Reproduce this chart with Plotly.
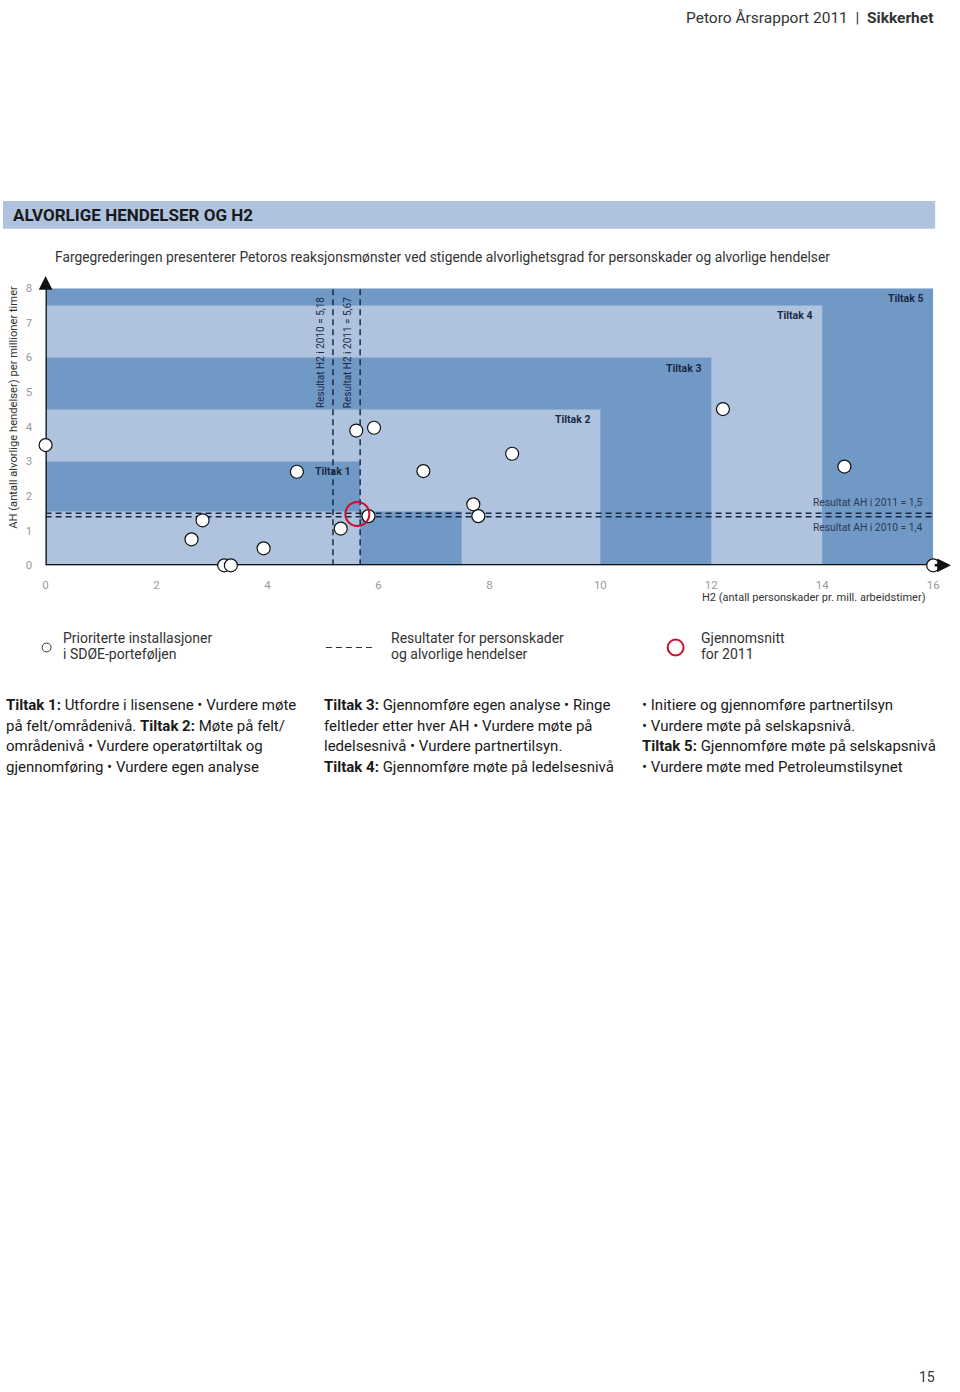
import plotly.graph_objects as go

W, H = 960, 1392
FONT = "Roboto"

# ---------------- data ----------------
point_x = [0.0, 2.83, 2.63, 3.22, 3.34, 3.93, 4.53, 5.60, 5.92, 5.32, 5.82, 6.81, 7.71, 7.80, 8.41, 12.21, 14.40, 16.0]
point_y = [3.47, 1.30, 0.75, 0.0, 0.0, 0.49, 2.70, 3.89, 3.97, 1.06, 1.42, 2.72, 1.76, 1.42, 3.22, 4.51, 2.85, 0.0]
avg_x = [5.62]
avg_y = [1.48]

tiltak_labels = ["Tiltak 1", "Tiltak 2", "Tiltak 3", "Tiltak 4", "Tiltak 5"]
tiltak_x_max = [5.67, 10, 12, 14, 16]
tiltak_y_max = [3, 4.5, 6, 7.5, 8]
inner_x_max = [5.67, 7.5]
inner_y_max = 1.55

h2_2010, h2_2011 = 5.18, 5.67
ah_2010, ah_2011 = 1.4, 1.5

x_ticks = [0, 2, 4, 6, 8, 10, 12, 14, 16]
y_ticks = [0, 1, 2, 3, 4, 5, 6, 7, 8]

DARK = "#7099c6"
LIGHT = "#afc3df"
NAVY = "#1b2a44"
GRAY = "#9a9a9a"

def px(x):
    return x / W

def py(y):
    return 1 - y / H

fig = go.Figure()

fig.add_trace(go.Scatter(
    x=point_x, y=point_y, mode="markers", cliponaxis=False, showlegend=False,
    hoverinfo="skip",
    marker=dict(size=13, color="white", line=dict(color="#111111", width=1.2))))
fig.add_trace(go.Scatter(
    x=avg_x, y=avg_y, mode="markers", cliponaxis=False, showlegend=False,
    hoverinfo="skip",
    marker=dict(size=24, color="rgba(0,0,0,0)", line=dict(color="#c8102e", width=2))))

shapes = []
colors = [DARK, LIGHT, DARK, LIGHT, DARK]
for i in range(4, -1, -1):
    shapes.append(dict(type="rect", xref="x", yref="y", x0=0, x1=tiltak_x_max[i],
                       y0=0, y1=tiltak_y_max[i], fillcolor=colors[i],
                       line=dict(width=0), layer="below"))
shapes.append(dict(type="rect", xref="x", yref="y", x0=inner_x_max[0], x1=inner_x_max[1],
                   y0=0, y1=inner_y_max, fillcolor=DARK, line=dict(width=0), layer="below"))
shapes.append(dict(type="rect", xref="x", yref="y", x0=0, x1=inner_x_max[0],
                   y0=0, y1=inner_y_max, fillcolor=LIGHT, line=dict(width=0), layer="below"))

for xv in (h2_2010, h2_2011):
    shapes.append(dict(type="line", xref="x", yref="y", x0=xv, x1=xv, y0=0, y1=8,
                       line=dict(color=NAVY, width=1.5, dash="6px,4px"), layer="below"))
for yv in (ah_2010, ah_2011):
    shapes.append(dict(type="line", xref="x", yref="y", x0=0, x1=16, y0=yv, y1=yv,
                       line=dict(color=NAVY, width=1.5, dash="6px,4px"), layer="below"))

shapes.append(dict(type="line", xref="x", yref="y", x0=0, x1=16.2, y0=0, y1=0,
                   line=dict(color="#111111", width=2.8), layer="below"))
shapes.append(dict(type="line", xref="x", yref="y", x0=0, x1=0, y0=0, y1=8.2,
                   line=dict(color="#111111", width=2.5), layer="below"))

shapes.append(dict(type="rect", xref="paper", yref="paper", x0=px(0), x1=px(941),
                   y0=py(224), y1=py(196), fillcolor=LIGHT, line=dict(width=0)))

shapes.append(dict(type="circle", xref="paper", yref="paper", x0=px(39.5), x1=px(48.5),
                   y0=py(651.5), y1=py(642.5), fillcolor="white",
                   line=dict(color="#333333", width=1)))
shapes.append(dict(type="line", xref="paper", yref="paper", x0=px(326), x1=px(374),
                   y0=py(647), y1=py(647), line=dict(color="#333333", width=1.2, dash="6px,4px")))
shapes.append(dict(type="circle", xref="paper", yref="paper", x0=px(671), x1=px(687),
                   y0=py(655), y1=py(639), fillcolor="rgba(0,0,0,0)",
                   line=dict(color="#c8102e", width=2)))

ann = []
ann.append(dict(x=0, y=8.35, ax=0, ay=8.0, xref="x", yref="y", axref="x", ayref="y",
                showarrow=True, arrowhead=2, arrowsize=1.1, arrowwidth=2.5, arrowcolor="#111111", text=""))
ann.append(dict(x=16.32, y=0, ax=16.0, ay=0, xref="x", yref="y", axref="x", ayref="y",
                showarrow=True, arrowhead=2, arrowsize=1.1, arrowwidth=2.5, arrowcolor="#111111", text=""))

lab_pos_y = [2.7, 4.2, 5.67, 7.2, 7.7]
lab_pos_x = [5.52, 9.85, 11.85, 13.85, 15.85]
for lab, lx, ly in zip(tiltak_labels, lab_pos_x, lab_pos_y):
    ann.append(dict(x=lx, y=ly, xref="x", yref="y", text="<b>" + lab + "</b>", showarrow=False,
                    xanchor="right", yanchor="middle", font=dict(family=FONT, size=10.5, color=NAVY)))

ann.append(dict(x=h2_2010 - 0.08, y=4.47, xref="x", yref="y", text="Resultat H2 i 2010 = 5,18",
                textangle=-90, showarrow=False, xanchor="right", yanchor="bottom",
                font=dict(family=FONT, size=10, color=NAVY)))
ann.append(dict(x=h2_2011 - 0.08, y=4.47, xref="x", yref="y", text="Resultat H2 i 2011 = 5,67",
                textangle=-90, showarrow=False, xanchor="right", yanchor="bottom",
                font=dict(family=FONT, size=10, color=NAVY)))
ann.append(dict(x=15.85, y=ah_2011 + 0.07, xref="x", yref="y", text="Resultat AH i 2011 = 1,5",
                showarrow=False, xanchor="right", yanchor="bottom",
                font=dict(family=FONT, size=10.3, color="#2a3a55")))
ann.append(dict(x=15.85, y=ah_2010 - 0.07, xref="x", yref="y", text="Resultat AH i 2010 = 1,4",
                showarrow=False, xanchor="right", yanchor="top",
                font=dict(family=FONT, size=10.3, color="#2a3a55")))

ann.append(dict(x=px(11), y=py(404), xref="paper", yref="paper",
                text="AH (antall alvorlige hendelser) per millioner timer", textangle=-90,
                showarrow=False, xanchor="center", yanchor="middle",
                font=dict(family=FONT, size=11.2, color="#333333")))
ann.append(dict(x=px(934), y=py(597), xref="paper", yref="paper",
                text="H2 (antall personskader pr. mill. arbeidstimer)",
                showarrow=False, xanchor="right", yanchor="middle",
                font=dict(family=FONT, size=11, color="#333333")))

ann.append(dict(x=px(941), y=py(11), xref="paper", yref="paper",
                text="Petoro Årsrapport 2011  |  <b>Sikkerhet</b>", showarrow=False,
                xanchor="right", yanchor="middle", font=dict(family=FONT, size=15.5, color="#333333")))
ann.append(dict(x=px(8), y=py(210), xref="paper", yref="paper",
                text="<b>ALVORLIGE HENDELSER OG H2</b>", showarrow=False,
                xanchor="left", yanchor="middle", font=dict(family=FONT, size=17, color="#1a1a1a")))
ann.append(dict(x=px(50), y=py(253), xref="paper", yref="paper",
                text="Fargegrederingen presenterer Petoros reaksjonsmønster ved stigende alvorlighetsgrad for personskader og alvorlige hendelser",
                showarrow=False, xanchor="left", yanchor="middle",
                font=dict(family=FONT, size=13.8, color="#333333")))

legend_texts = [
    (59, ["Prioriterte installasjoner", "i SDØE-porteføljen"]),
    (390, ["Resultater for personskader", "og alvorlige hendelser"]),
    (703, ["Gjennomsnitt", "for 2011"]),
]
for lx, lines in legend_texts:
    for k, t in enumerate(lines):
        ann.append(dict(x=px(lx), y=py(637 + 17 * k), xref="paper", yref="paper", text=t,
                        showarrow=False, xanchor="left", yanchor="middle",
                        font=dict(family=FONT, size=14, color="#333333")))

body_cols = [
    (1, ["<b>Tiltak 1:</b> Utfordre i lisensene • Vurdere møte",
         "på felt/områdenivå. <b>Tiltak 2:</b> Møte på felt/",
         "områdenivå • Vurdere operatørtiltak og",
         "gjennomføring • Vurdere egen analyse"]),
    (322, ["<b>Tiltak 3:</b> Gjennomføre egen analyse • Ringe",
           "feltleder etter hver AH • Vurdere møte på",
           "ledelsesnivå • Vurdere partnertilsyn.",
           "<b>Tiltak 4:</b> Gjennomføre møte på ledelsesnivå"]),
    (643, ["• Initiere og gjennomføre partnertilsyn",
           "• Vurdere møte på selskapsnivå.",
           "<b>Tiltak 5:</b> Gjennomføre møte på selskapsnivå",
           "• Vurdere møte med Petroleumstilsynet"]),
]
for bx, lines in body_cols:
    for k, t in enumerate(lines):
        ann.append(dict(x=px(bx), y=py(705 + 21 * k), xref="paper", yref="paper", text=t,
                        showarrow=False, xanchor="left", yanchor="middle",
                        font=dict(family=FONT, size=15, color="#1a1a1a")))

ann.append(dict(x=px(933), y=py(1384), xref="paper", yref="paper", text="15",
                showarrow=False, xanchor="center", yanchor="middle",
                font=dict(family=FONT, size=14, color="#333333")))

fig.update_layout(
    width=W, height=H, margin=dict(l=0, r=0, t=0, b=0, pad=0),
    paper_bgcolor="white", plot_bgcolor="white",
    shapes=shapes, annotations=ann, showlegend=False, hovermode=False,
    xaxis=dict(domain=[px(43), px(939)], range=[0, 16], tickvals=x_ticks,
               ticktext=[str(v) for v in x_ticks], showgrid=False, zeroline=False,
               showline=False, ticks="outside", ticklen=9, tickcolor="rgba(0,0,0,0)",
               tickfont=dict(family=FONT, size=11.5, color=GRAY), fixedrange=True),
    yaxis=dict(domain=[py(564), py(284)], range=[0, 8], tickvals=y_ticks,
               ticktext=[str(v) for v in y_ticks], showgrid=False, zeroline=False,
               showline=False, ticks="outside", ticklen=10, tickcolor="rgba(0,0,0,0)",
               tickfont=dict(family=FONT, size=11.5, color=GRAY), fixedrange=True),
)

fig.write_html("out.html", config={"displayModeBar": False, "staticPlot": True},
               post_script="document.body.style.margin='0';document.body.style.padding='0';document.documentElement.style.overflow='hidden';")
